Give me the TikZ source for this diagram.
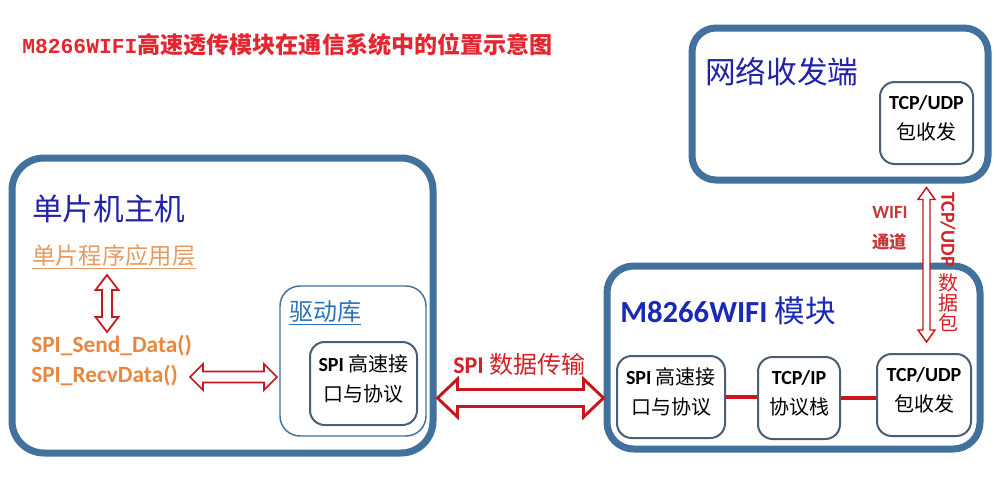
\documentclass[tikz,border=0pt]{standalone}
\usepackage{fontspec}
\setmainfont{Carlito}
\newfontfamily\cjk{Noto Sans CJK SC}
\newfontfamily\tmono{Liberation Mono}
\usetikzlibrary{calc}
\definecolor{boxblue}{HTML}{41719C}
\definecolor{inborder}{HTML}{4A5F75}
\definecolor{titlered}{HTML}{E3262F}
\definecolor{arrowred}{HTML}{C8161D}
\definecolor{labelred}{HTML}{D42027}
\definecolor{wifired}{HTML}{C23A3A}
\definecolor{orangeA}{HTML}{E59B62}
\definecolor{orangeB}{HTML}{E8873F}
\definecolor{navyA}{HTML}{2323A8}
\definecolor{navyB}{HTML}{1A2AB4}
\definecolor{drvblue}{HTML}{2E74B5}
\newcommand\hdarrow[6]{%
  \draw[#1] (#2) -- ($(#2)+(#4,-#5)$) -- ($(#2)+(#4,-#6)$) -- ($(#3)+(-#4,-#6)$) -- ($(#3)+(-#4,-#5)$) -- (#3)
    -- ($(#3)+(-#4,#5)$) -- ($(#3)+(-#4,#6)$) -- ($(#2)+(#4,#6)$) -- ($(#2)+(#4,#5)$) -- cycle;}
\newcommand\vdarrow[6]{%
  \draw[#1] (#2) -- ($(#2)+(-#5,#4)$) -- ($(#2)+(-#6,#4)$) -- ($(#3)+(-#6,-#4)$) -- ($(#3)+(-#5,-#4)$) -- (#3)
    -- ($(#3)+(#5,-#4)$) -- ($(#3)+(#6,-#4)$) -- ($(#2)+(#6,#4)$) -- ($(#2)+(#5,#4)$) -- cycle;}
\tikzset{
  bigbox/.style={draw=boxblue, line width=5.25pt, rounded corners=#1, fill=white, inner sep=0pt},
  drvbox/.style={draw=boxblue, line width=1.1pt, rounded corners=15pt, inner sep=0pt},
  inbox/.style={draw=inborder, line width=1.5pt, rounded corners=11pt, fill=white, inner sep=0pt},
  boxtxt/.style={align=center, inner sep=0pt, font=\fontsize{15}{22.5}\selectfont},
  lbl/.style={anchor=base west, inner sep=0pt},
  redarrow/.style={draw=arrowred, fill=white, line width=#1, line join=miter},
  redline/.style={draw=arrowred, line width=2.3pt}
}
\begin{document}
\begin{tikzpicture}[x=0.75pt,y=-0.75pt]
\useasboundingbox[fill=white] (0,0) rectangle (1000,482);

% big frames
\node[bigbox=24pt, minimum width=421*0.75pt, minimum height=295*0.75pt] (host) at (222.5,305.5) {};
\node[bigbox=20pt, minimum width=373*0.75pt, minimum height=183*0.75pt] (mod) at (793.5,357.5) {};
\node[bigbox=18pt, minimum width=296*0.75pt, minimum height=152*0.75pt] (net) at (840,104) {};

% inner boxes
\node[drvbox, minimum width=146*0.75pt, minimum height=150*0.75pt] (drv) at (353,361) {};
\node[inbox, minimum width=107*0.75pt, minimum height=83*0.75pt] (spi1) at (363.5,383.5) {};
\node[inbox, minimum width=108*0.75pt, minimum height=82*0.75pt] (spi2) at (671,397) {};
\node[inbox, minimum width=82*0.75pt, minimum height=82*0.75pt] (tcpip) at (799,398) {};
\node[inbox, minimum width=94*0.75pt, minimum height=82*0.75pt] (udp2) at (924,395) {};
\node[inbox, minimum width=93*0.75pt, minimum height=82*0.75pt] (netin) at (926.5,123) {};

% box texts
\node[boxtxt] (spi1t) at ($(spi1.center)+(0,-5)$) {\textbf{SPI} {\cjk 高速接}\\{\cjk 口与协议}};
\node[boxtxt] (spi2t) at ($(spi2.center)+(0,-5)$) {\textbf{SPI} {\cjk 高速接}\\{\cjk 口与协议}};
\node[boxtxt] (tcpipt) at ($(tcpip.center)+(0,-5)$) {\textbf{TCP/IP}\\{\cjk 协议栈}};
\node[boxtxt] (udp2t) at ($(udp2.center)+(0,-5)$) {\textbf{TCP/UDP}\\{\cjk 包收发}};
\node[boxtxt] (netint) at ($(netin.center)+(0,-5)$) {\textbf{TCP/UDP}\\{\cjk 包收发}};

% connectors inside module
\draw[redline] (spi2.east) -- (spi2.east -| tcpip.west);
\draw[redline] (tcpip.east) -- (tcpip.east -| udp2.west);

% labels
\node[lbl, text=titlered] (title) at (22,53.5)
  {{\tmono\bfseries\fontsize{16}{18}\selectfont M8266WIFI}{\cjk\bfseries\fontsize{17.3}{20}\selectfont 高速透传模块在通信系统中的位置示意图}};
\node[lbl, text=navyA, font=\cjk\fontsize{23}{26}\selectfont] (hostt) at (32,220) {单片机主机};
\node[lbl, text=orangeA, font=\cjk\fontsize{17.5}{20}\selectfont] (app) at (32,264) {\underline{单片程序应用层}};
\node[lbl, text=orangeB, font=\bfseries\fontsize{17.5}{20}\selectfont] (send) at (31,352) {SPI\_Send\_Data()};
\node[lbl, text=orangeB, font=\bfseries\fontsize{17.5}{20}\selectfont] (recv) at (31,382) {SPI\_RecvData()};
\node[lbl, text=drvblue, font=\cjk\fontsize{18}{20}\selectfont] (drvt) at (289,320) {\underline{驱动库}};
\node[lbl, text=labelred, font=\fontsize{18}{20}\selectfont] (spilbl) at (453,373.5) {\textbf{SPI} {\cjk 数据传输}};
\node[lbl, text=navyB, font=\fontsize{23}{26}\selectfont] (modt) at (620,322) {\textbf{M8266WIFI} {\cjk 模块}};
\node[lbl, text=navyA, font=\cjk\fontsize{23}{26}\selectfont] (nett) at (705,83) {网络收发端};
\node[lbl, text=wifired, font=\bfseries\fontsize{14}{16}\selectfont] (wifit) at (872,218) {WIFI};
\node[anchor=west, inner sep=0pt, text=wifired, font=\cjk\bfseries\fontsize{13}{15}\selectfont] (tongdao) at (872,241.5) {通道};
\node[inner sep=0pt, text=labelred, rotate=-90, font=\bfseries\fontsize{15}{17}\selectfont] (udpv) at (948,229.5) {TCP/UDP};
\node[inner sep=0pt, align=center, text=labelred, font=\cjk\fontsize{15}{15}\selectfont] (pkt) at (948,303) {数\\据\\包};

% double arrows
\coordinate (vT) at (107,275);
\coordinate (vB) at (107,332);
\vdarrow{redarrow=1.3pt}{vT}{vB}{15}{11.5}{5}
\coordinate (hL) at (190,377);
\coordinate (hR) at (277,377);
\hdarrow{redarrow=1.3pt}{hL}{hR}{13}{13}{5.5}
\coordinate (sL) at ($(host.east |- spi2.center)+(1,1)$);
\coordinate (sR) at ($(mod.west |- spi2.center)+(0,1)$);
\hdarrow{redarrow=2.2pt}{sL}{sR}{20}{19}{8.5}
\coordinate (wT) at ($(net.south -| netin.center)+(0,4)$);
\coordinate (wB) at ($(udp2.north -| netin.center)+(0,-11)$);
\vdarrow{redarrow=1.1pt}{wT}{wB}{12}{8.5}{3.5}
\end{tikzpicture}
\end{document}
